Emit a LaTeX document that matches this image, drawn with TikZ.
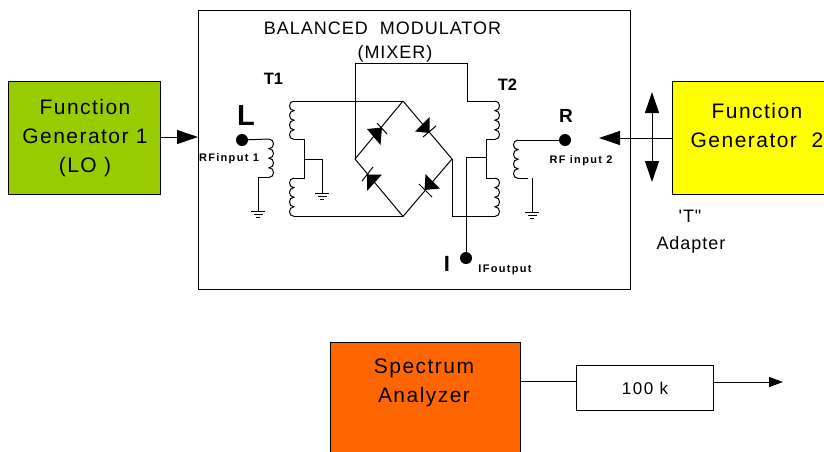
\documentclass[tikz,border=0pt]{standalone}
\usepackage{fontspec}
\setmainfont{Liberation Sans}
\newfontfamily\plainq{Liberation Sans}
\usetikzlibrary{arrows.meta}
\definecolor{fgone}{HTML}{99CC00}
\definecolor{fgtwo}{HTML}{FFFF00}
\definecolor{specan}{HTML}{FF6600}
\newcommand{\coilat}[2]{% start coordinate, bulge
  \draw[wire] (#1) .. controls +(#2,0) and +(#2,0) .. ++(0,9.6)
    .. controls +(#2,0) and +(#2,0) .. ++(0,9.6)
    .. controls +(#2,0) and +(#2,0) .. ++(0,9.6)
    .. controls +(#2,0) and +(#2,0) .. ++(0,9.6);}
\newcommand{\gnd}[1]{%
  \draw[wire] ([xshift=-7pt]#1) -- ([xshift=7pt]#1)
    ([xshift=-4.5pt,yshift=-3.4pt]#1) -- ([xshift=4.5pt,yshift=-3.4pt]#1)
    ([xshift=-2pt,yshift=-6.8pt]#1) -- ([xshift=2pt,yshift=-6.8pt]#1);}
\tikzset{
  wire/.style={line width=1pt,black},
  block/.style={draw=black,line width=1pt},
  txt/.style={inner sep=0pt,anchor=base,align=center},
  big/.style={txt,font=\fontsize{21}{21}\selectfont\addfontfeature{LetterSpace=7}},
  midt/.style={txt,font=\fontsize{18}{18}\selectfont\addfontfeature{LetterSpace=5.5}},
  tiny/.style={txt,font=\bfseries\fontsize{11}{11}\selectfont\addfontfeature{LetterSpace=12}},
  bold/.style={txt,font=\bfseries\fontsize{16.5}{16.5}\selectfont},
  arr/.style={wire,-{Triangle[length=21pt,width=14pt]}},
  dotn/.style={circle,fill=black,inner sep=0pt,minimum size=12pt},
}
\begin{document}
\begin{tikzpicture}[x=1pt,y=-1pt]
\useasboundingbox (0,0) rectangle (824,451);
\begin{scope}
\clip (0,0) rectangle (824,451);
\draw[block,fill=fgone] (8.5,81.5) rectangle (160.5,194);
\draw[block,fill=fgtwo] (672,81.5) rectangle (830,194.5);
\draw[block,fill=specan] (330.5,342.5) rectangle (520.5,460);
\end{scope}
\coordinate (fgoneE) at (161,137);
\coordinate (fgtwoW) at (672,138);
\coordinate (specE) at (521,381);
\node[draw=black,line width=1pt,minimum width=137pt,minimum height=45pt,inner sep=0pt] (hundred) at (645,387.5) {};
\draw[block] (198.5,10) rectangle (630.5,289);
\coordinate (mixW) at (198,137);
\coordinate (tipR) at (599,138);
\coordinate (tUp) at (652,92);
\coordinate (tDn) at (652,182);
\coordinate (outEnd) at (783,382);

% text
\node[big] at (85,114) {Function};
\node[big] at (85,143) {Generator 1};
\node[big] at (85,172) {(LO )};
\node[big] at (757,118) {Function};
\node[big] at (757,147) {Generator\ \ 2};
\node[big] at (424,373) {Spectrum};
\node[big] at (424,402) {Analyzer};
\node[midt] at (382.5,34) {BALANCED\ \ MODULATOR};
\node[midt] at (395,58) {(MIXER)};
\node[txt,font=\plainq\fontsize{18}{18}\selectfont\addfontfeature{LetterSpace=5}] at (690,222) {'T"};
\node[midt] at (691,249) {Adapter};
\node[txt,font=\fontsize{17}{17}\selectfont\addfontfeature{LetterSpace=9}] at (645,394) {100 k};
\node[bold] at (273.5,84.5) {T1};
\node[bold] at (507.5,90) {T2};
\node[txt,font=\bfseries\fontsize{29}{29}\selectfont] at (246,125) {L};
\node[txt,font=\bfseries\fontsize{19}{19}\selectfont] at (566,122) {R};
\node[txt,font=\bfseries\fontsize{22}{22}\selectfont] at (447,271) {I};
\node[tiny] at (229,161) {RFinput 1};
\node[tiny] at (581,163) {RF input 2};
\node[tiny] at (505,272) {IFoutput};

% ports
\node[dotn] (L) at (242,140) {};
\node[dotn] (R) at (565,140) {};
\node[dotn] (I) at (466,258) {};

% junctions T1
\coordinate (a1) at (269,139);
\coordinate (a2) at (269,177.4);
\coordinate (a3) at (258,177.4);
\coordinate (g1) at (258,211);
\coordinate (b1) at (294,101);
\coordinate (b2) at (294,139.4);
\coordinate (b3) at (304,139.4);
\coordinate (b4) at (304,178);
\coordinate (b5) at (294,178);
\coordinate (b6) at (294,216.4);
\coordinate (bm) at (304,159);
\coordinate (bn) at (322,159);
\coordinate (g2) at (322,193);
% bridge
\coordinate (top) at (403,101);
\coordinate (lft) at (355,159);
\coordinate (rgt) at (452,159);
\coordinate (bot) at (403,216.4);
\coordinate (u1) at (355,63);
\coordinate (u2) at (467,63);
\coordinate (u3) at (467,101);
% T2
\coordinate (c1) at (495,101);
\coordinate (c2) at (495,139.4);
\coordinate (c3) at (486,139.4);
\coordinate (c4) at (486,178);
\coordinate (c5) at (495,178);
\coordinate (c6) at (495,216.4);
\coordinate (c7) at (452,216.4);
\coordinate (cm) at (486,157);
\coordinate (cn) at (466,157);
\coordinate (d1) at (518,140);
\coordinate (d2) at (518,178.4);
\coordinate (d3) at (528,178.4);
\coordinate (d4) at (532,178);
\coordinate (g3) at (532,212);

% T1 wiring
\draw[wire] (L.center) -- (a1);
\coilat{a1}{6}
\draw[wire] (a2) -- (a3) -- (g1);
\gnd{g1}
\coilat{b1}{-6}
\coilat{b5}{-6}
\draw[wire] (b1) -- (top);
\draw[wire] (b2) -- (b3) -- (b4) -- (b5);
\draw[wire] (bm) -- (bn) -- (g2);
\gnd{g2}
\draw[wire] (b6) -- (bot);
% bridge wiring
\draw[wire] (top) -- (lft) -- (bot) -- (rgt) -- (top);
\draw[wire] (lft) -- (u1) -- (u2) -- (u3) -- (c1);
\coilat{c1}{6}
\coilat{c5}{6}
\draw[wire] (c2) -- (c3) -- (c4) -- (c5);
\draw[wire] (c6) -- (c7) -- (rgt);
\draw[wire] (cm) -- (cn) -- (I.center);
\draw[wire] (R.center) -- (d1);
\coilat{d1}{-6}
\draw[wire] (d2) -- (d3);
\draw[wire] (d4) -- (g3);
\gnd{g3}
% diodes
\fill (367,129) -- (382,127.5) -- (380.5,145) -- cycle;
\draw[wire] (377,123) -- (387,134);
\fill (415,131.5) -- (429.5,117) -- (429.5,133) -- cycle;
\draw[wire] (423,137) -- (436,126);
\fill (425.5,174) -- (440,188.5) -- (424.5,190) -- cycle;
\draw[wire] (419,184) -- (432,197);
\fill (367,174.5) -- (382,174.5) -- (367,191) -- cycle;
\draw[wire] (362,181) -- (373,167);

% external connectors
\draw[arr] (fgoneE) -- (mixW);
\draw[arr] (fgtwoW) -- (tipR);
\draw[wire,{Triangle[length=21pt,width=14pt]}-{Triangle[length=21pt,width=14pt]}] (tUp) -- (tDn);
\draw[wire] (specE) -- (specE -| hundred.west);
\draw[wire,-{Triangle[length=14pt,width=10pt]}] (hundred.east |- outEnd) -- (outEnd);
\end{tikzpicture}
\end{document}
